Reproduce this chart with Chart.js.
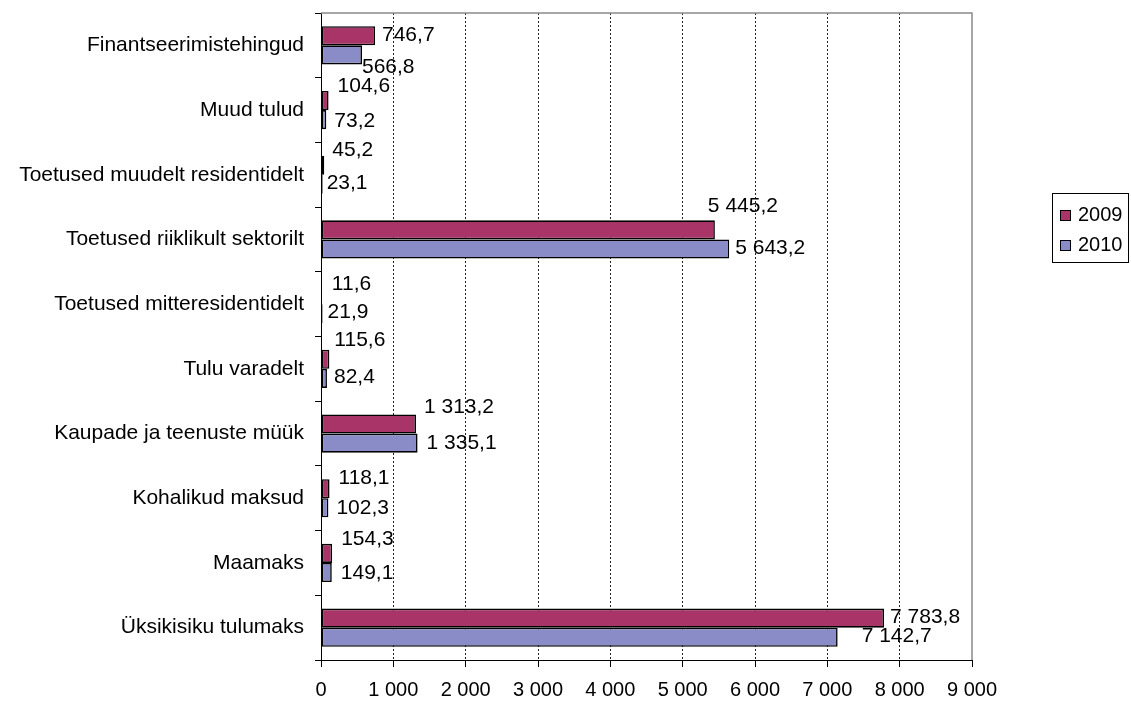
<!DOCTYPE html>
<html>
<head>
<meta charset="utf-8">
<script src="https://cdn.jsdelivr.net/npm/chart.js@4.4.1/dist/chart.umd.min.js"></script>
<style>
html,body{margin:0;padding:0;background:#fff;}
#wrap{width:1131px;height:702px;position:relative;}
</style>
</head>
<body>
<div id="wrap"><canvas id="c"></canvas></div>
<script>
const categories = [
  "Finantseerimistehingud",
  "Muud tulud",
  "Toetused muudelt residentidelt",
  "Toetused riiklikult sektorilt",
  "Toetused mitteresidentidelt",
  "Tulu varadelt",
  "Kaupade ja teenuste müük",
  "Kohalikud maksud",
  "Maamaks",
  "Üksikisiku tulumaks"
];
const seriesNames = ["2009", "2010"];
const values2009 = [746.7, 104.6, 45.2, 5445.2, 11.6, 115.6, 1313.2, 118.1, 154.3, 7783.8];
const values2010 = [566.8, 73.2, 23.1, 5643.2, 21.9, 82.4, 1335.1, 102.3, 149.1, 7142.7];
const axisMin = 0, axisMax = 9000, axisStep = 1000;

// label nudges (style only): [dx, dy] in px relative to bar end / bar centre
const labelNudge2009 = [[7,-1],[9,-14],[8,-15],[-7,-24],[10,-10],[5,-19],[8,-17],[9,-11],[9,-14],[6,-1]];
const labelNudge2010 = [[0,12],[8,2],[4,-1],[6,-1],[5,-1],[7,-1],[9,0],[8,0],[9,1],[24,-1]];

const FONT = '"Liberation Sans", Arial, sans-serif';
const COL2009 = '#A93467';
const COL2010 = '#898CC6';

function fmt(v){
  const s = v.toFixed(1).split('.');
  const intPart = s[0].replace(/\B(?=(\d{3})+(?!\d))/g, ' ');
  return intPart + ',' + s[1];
}
function fmtTick(v){
  return String(v).replace(/\B(?=(\d{3})+(?!\d))/g, ' ');
}

const labelPlugin = {
  id: 'barLabels',
  afterDatasetsDraw(chart){
    const ctx = chart.ctx;
    const nudges = [labelNudge2009, labelNudge2010];
    ctx.save();
    ctx.font = '21px ' + FONT;
    ctx.fillStyle = '#000';
    ctx.textAlign = 'left';
    ctx.textBaseline = 'middle';
    chart.data.datasets.forEach((ds, di) => {
      const meta = chart.getDatasetMeta(di);
      meta.data.forEach((el, i) => {
        const n = nudges[di][i];
        ctx.fillText(fmt(ds.data[i]), el.x + n[0], el.y + n[1]);
      });
    });
    ctx.restore();
  }
};

const framePlugin = {
  id: 'frame',
  beforeDatasetsDraw(chart){
    const a = chart.chartArea, ctx = chart.ctx;
    ctx.save();
    ctx.strokeStyle = '#8a8a8a';
    ctx.lineWidth = 1.5;
    ctx.beginPath();
    ctx.moveTo(a.left, a.top);
    ctx.lineTo(a.right, a.top);
    ctx.lineTo(a.right, a.bottom);
    ctx.stroke();
    ctx.restore();
  }
};

const legendPlugin = {
  id: 'boxLegend',
  afterDraw(chart){
    const ctx = chart.ctx;
    ctx.save();
    ctx.strokeStyle = '#000';
    ctx.lineWidth = 1;
    ctx.strokeRect(1052.5, 193.5, 76, 69);
    ctx.font = '20px ' + FONT;
    ctx.textAlign = 'left';
    ctx.textBaseline = 'middle';
    chart.data.datasets.forEach((ds, i) => {
      const y = 210 + i * 30;
      ctx.fillStyle = ds.backgroundColor;
      ctx.fillRect(1060.5, y + 0.5, 10, 10);
      ctx.strokeRect(1060.5, y + 0.5, 10, 10);
      ctx.fillStyle = '#000';
      ctx.fillText(ds.label, 1078, y + 5);
    });
    ctx.restore();
  }
};

new Chart(document.getElementById('c'), {
  type: 'bar',
  data: {
    labels: categories,
    datasets: [
      { label: seriesNames[0], data: values2009, backgroundColor: COL2009, borderColor: '#000', borderWidth: 1.6, borderSkipped: false },
      { label: seriesNames[1], data: values2010, backgroundColor: COL2010, borderColor: '#000', borderWidth: 1.6, borderSkipped: false }
    ]
  },
  options: {
    indexAxis: 'y',
    responsive: true,
    maintainAspectRatio: false,
    animation: false,
    categoryPercentage: 0.59,
    barPercentage: 1.0,
    layout: { padding: { top: 13, right: 159, bottom: 0, left: 0 } },
    plugins: { legend: { display: false }, tooltip: { enabled: false } },
    scales: {
      x: {
        min: axisMin, max: axisMax,
        ticks: {
          stepSize: axisStep,
          color: '#000',
          font: { family: FONT, size: 20 },
          padding: 11,
          maxRotation: 0,
          callback: (v) => fmtTick(v)
        },
        grid: {
          display: true,
          drawOnChartArea: true,
          drawTicks: true,
          tickLength: 7,
          color: (c) => (c.tick && (c.tick.value === axisMin || c.tick.value === axisMax)) ? 'rgba(0,0,0,0)' : '#222',
          lineWidth: 1,
          tickColor: '#000',
          tickWidth: 1,
          tickBorderDash: []
        },
        border: { display: true, color: '#000', width: 1, dash: [2, 2] },
        afterFit(scale){ scale.height = 42; scale.paddingLeft = 0; scale.paddingRight = 0; }
      },
      y: {
        ticks: {
          color: '#000',
          font: { family: FONT, size: 21 },
          padding: 11,
          autoSkip: false
        },
        grid: {
          display: true,
          offset: true,
          drawOnChartArea: false,
          drawTicks: true,
          tickLength: 6,
          tickColor: '#000',
          tickWidth: 1
        },
        border: { display: true, color: '#000', width: 1 },
        afterFit(scale){ scale.width = 321; scale.paddingTop = 0; scale.paddingBottom = 0; }
      }
    }
  },
  plugins: [framePlugin, labelPlugin, legendPlugin]
});
</script>
</body>
</html>
